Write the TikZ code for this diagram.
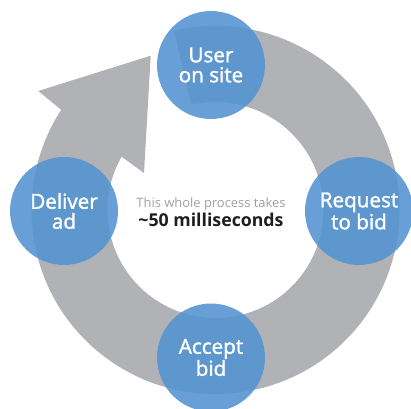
\documentclass[tikz,border=0pt]{standalone}
\usepackage{fontspec}
\setmainfont{Open Sans}
\newfontfamily\semibold[FakeBold=1.6]{Open Sans}
\usepackage{tikz}
\definecolor{ringgray}{HTML}{B1B2B6}
\definecolor{stageblue}{HTML}{5695D1}
\definecolor{notegray}{HTML}{A0A0A0}
\definecolor{darkslate}{HTML}{1E1E1E}
\tikzset{stage/.style={circle, fill=stageblue, fill opacity=0.9, text opacity=1, text=white, minimum size=81pt, inner sep=0pt, align=center, font=\semibold\fontsize{15.5}{15}\selectfont}}

\begin{document}
\begin{tikzpicture}[x=0.75pt,y=0.75pt]
        \useasboundingbox (0,0) rectangle (411,408);
        % Ring with arrow head
        \begin{scope}[shift={(215.5,198)}]
            \fill[ringgray] (103:184) arc[start angle=103, end angle=-213, radius=184]
                -- (-177.2,119) -- (-64.8,154.3) -- (-71.5,37) -- (150.4:108)
                arc[start angle=-209.6, end angle=103, radius=108] -- cycle;
        \end{scope}
        % User on site
        \node[stage] (user) at (211,343) {User\\on site};
        % Request to bid
        \node[stage] (request) at (359,197) {Request\\to bid};
        % Accept bid
        \node[stage] (accept) at (211,50.5) {Accept\\bid};
        % Deliver ad
        \node[stage] (deliver) at (64,197) {Deliver\\ad};
        % Centre note
        \node[align=center, inner sep=0pt] (note) at (211,196) {
            {\fontsize{9.7}{13}\selectfont\color{notegray}This whole process takes}\\[1pt]
            {\fontsize{13.3}{15}\selectfont\bfseries\color{darkslate}\textasciitilde 50 milliseconds}
        };
    \end{tikzpicture}
\end{document}
